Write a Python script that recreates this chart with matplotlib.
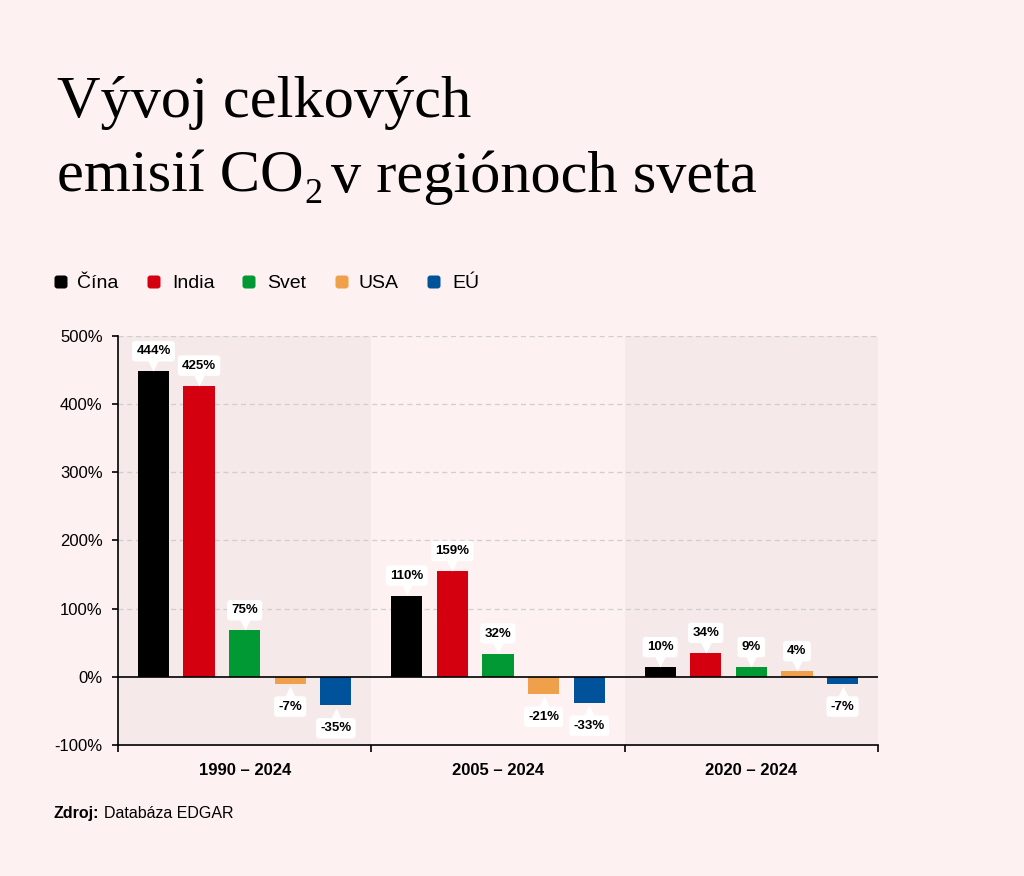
"""Vývoj celkových emisií CO2 v regiónoch sveta – grouped bar chart (EDGAR)."""
import matplotlib
matplotlib.use("Agg")
import matplotlib.pyplot as plt  # noqa: E402
from matplotlib.patches import FancyBboxPatch  # noqa: E402
from matplotlib.transforms import offset_copy  # noqa: E402

periods = ["1990 – 2024", "2005 – 2024", "2020 – 2024"]
regions = ["Čína", "India", "Svet", "USA", "EÚ"]
colors = ["#000000", "#d4000f", "#009933", "#f0a04b", "#00539b"]

# bar heights as drawn (in %), per region, one value per period
cina = [448, 119, 14]
india = [427, 155, 35]
svet = [68, 34, 14]
usa = [-10, -25, 8]
eu = [-42, -38, -10]

# printed callout values
cina_lbl = [444, 110, 10]
india_lbl = [425, 159, 34]
svet_lbl = [75, 32, 9]
usa_lbl = [-7, -21, 4]
eu_lbl = [-35, -33, -7]

yticks = [-100, 0, 100, 200, 300, 400, 500]

BG = "#fdf1f1"
SHADE = "#f5e9e9"
SANS = ["Liberation Sans", "DejaVu Sans"]
SERIF = ["Liberation Serif", "DejaVu Serif"]

plt.rcParams["font.family"] = SANS

W, H = 1024, 876
fig = plt.figure(figsize=(W / 100, H / 100), dpi=100, facecolor=BG)
ax = fig.add_axes([118 / W, 1 - 745 / H, (878 - 118) / W, (745 - 336) / H])
ax.set_facecolor(BG)

for g in (0, 2):
    ax.axvspan(g, g + 1, color=SHADE, lw=0, zorder=0)

for y in yticks[2:]:
    ax.axhline(y, color="#cfcfcf", lw=0.9, ls=(0, (4, 3)), zorder=1)
ax.axhline(0, color="black", lw=1.2, zorder=3)

series = [cina, india, svet, usa, eu]
labels = [cina_lbl, india_lbl, svet_lbl, usa_lbl, eu_lbl]
step, bw = 0.18, 0.123
up = offset_copy(ax.transData, fig=fig, x=0, y=4.5, units="points")
dn = offset_copy(ax.transData, fig=fig, x=0, y=-6, units="points")

for i, (vals, lbls, col) in enumerate(zip(series, labels, colors)):
    xs = [g + 0.5 + (i - 2) * step for g in range(len(periods))]
    ax.bar(xs, vals, bw, color=col, zorder=2)
    for x, v, t in zip(xs, vals, lbls):
        pos = v >= 0
        ax.annotate(f"{t}%", xy=(x, v), xytext=(0, 14.5 if pos else -16.5),
                    textcoords="offset points", ha="center", va="center",
                    fontsize=9.5, fontweight="bold", zorder=5,
                    bbox=dict(boxstyle="round,pad=0.32,rounding_size=0.25",
                              fc="white", ec="none"))
        ax.plot([x], [v], marker="v" if pos else "^", ms=8, color="white",
                mec="none", transform=up if pos else dn, zorder=4)

ax.set_xlim(0, 3)
ax.set_ylim(-100, 500)
ax.set_yticks(yticks)
ax.set_yticklabels([f"{t}%" for t in yticks])
ax.set_xticks([0, 1, 2, 3])
ax.set_xticklabels([])
ax.set_xticks([0.5, 1.5, 2.5], minor=True)
ax.set_xticklabels(periods, minor=True, fontsize=12, fontweight="bold")
ax.tick_params(axis="x", which="major", length=5, width=1.2, direction="out")
ax.tick_params(axis="x", which="minor", length=0, pad=13)
ax.tick_params(axis="y", length=4, width=1.2, pad=7, labelsize=12)
for s in ("top", "right"):
    ax.spines[s].set_visible(False)
for s in ("left", "bottom"):
    ax.spines[s].set_linewidth(1.2)

renderer = fig.canvas.get_renderer()


def right_px(t):
    return t.get_window_extent(renderer).x1


# title, subscript 2 drawn as its own smaller text
TS = 43.5
fig.text(57 / W, 1 - 117 / H, "Vývoj celkových", family=SERIF, fontsize=TS,
         va="baseline", ha="left")
t_a = fig.text(57 / W, 1 - 192 / H, "emisií CO", family=SERIF, fontsize=TS,
               va="baseline", ha="left")
x2 = right_px(t_a) + 1
t_b = fig.text(x2 / W, 1 - 203 / H, "2", family=SERIF, fontsize=26,
               va="baseline", ha="left")
x3 = right_px(t_b) + 8
fig.text(x3 / W, 1 - 192 / H, "v regiónoch sveta", family=SERIF, fontsize=TS,
         va="baseline", ha="left")

# legend
sq_x = [61, 154, 249, 342, 434]
txt_x = [77, 172, 267, 359, 452]
ly = 282
for name, col, sx, tx in zip(regions, colors, sq_x, txt_x):
    fig.patches.append(FancyBboxPatch(((sx - 6.5) / W, 1 - (ly + 6.5) / H), 13 / W, 13 / H,
                                      boxstyle="round,pad=0,rounding_size=0.003",
                                      transform=fig.transFigure, fc=col, ec="none"))
    fig.text(tx / W, 1 - (ly + 1) / H, name, fontsize=14, va="center", ha="left")

# source
t_z = fig.text(54 / W, 1 - 818 / H, "Zdroj:", fontsize=11.5, fontweight="bold",
               va="baseline")
fig.text((right_px(t_z) + 4) / W, 1 - 818 / H, "Databáza EDGAR", fontsize=11.5,
         va="baseline")

fig.savefig("out.png", dpi=100, facecolor=BG)
